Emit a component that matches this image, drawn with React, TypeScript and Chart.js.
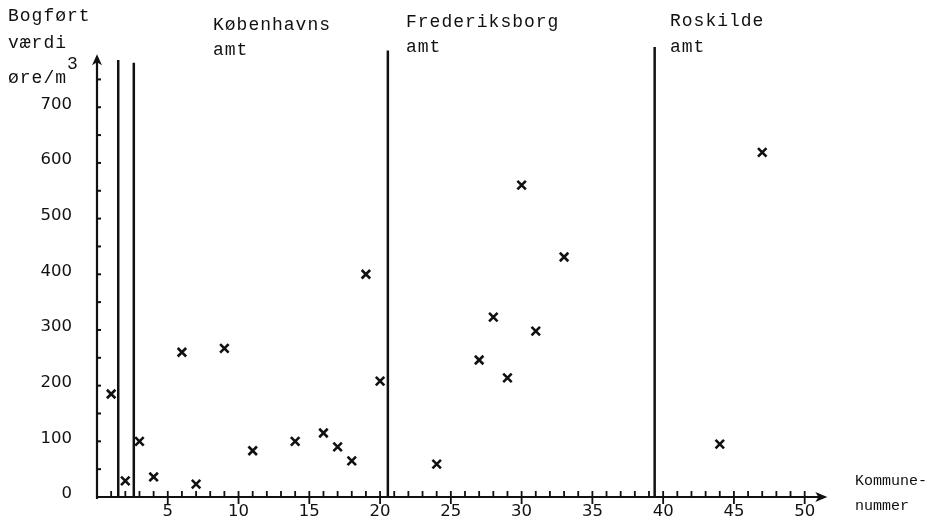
import React, { useEffect, useRef } from 'react';
import { Chart, registerables } from 'chart.js';

Chart.register(...registerables);

// Data
const kommuneNr = [1, 2, 3, 4, 6, 7, 9, 11, 14, 16, 17, 18, 19, 20, 24, 27, 28, 29, 30, 31, 33, 44, 47];
const vaerdi = [185, 29, 100, 36, 260, 23, 267, 83, 100, 115, 90, 65, 400, 208, 59, 246, 323, 214, 560, 298, 431, 95, 619];

// Vertical dividers between amter (x position, top value)
const dividerX = [1.5, 2.6, 20.55, 39.4];
const dividerTop = [785, 780, 802, 808];

const xTickLabels = [5, 10, 15, 20, 25, 30, 35, 40, 45, 50];
const yTickLabels = [0, 100, 200, 300, 400, 500, 600, 700];

const amtNames = [
  ['Københavns', 'amt'],
  ['Frederiksborg', 'amt'],
  ['Roskilde', 'amt'],
];
const yTitle = ['Bogført', 'værdi', 'øre/m'];
const ySuperscript = '3';
const xTitle = ['Kommune-', 'nummer'];

const INK = '#111';

const axesPlugin = {
  id: 'handAxes',
  afterDraw(chart: any) {
    const ctx = chart.ctx as CanvasRenderingContext2D;
    const xs = chart.scales.x;
    const ys = chart.scales.y;
    const x0 = xs.getPixelForValue(0);
    const y0 = ys.getPixelForValue(0);
    ctx.save();
    ctx.strokeStyle = INK;
    ctx.fillStyle = INK;
    ctx.lineCap = 'butt';

    // Y axis
    const yTip = ys.getPixelForValue(795);
    ctx.lineWidth = 2.2;
    ctx.beginPath();
    ctx.moveTo(x0, y0 + 2);
    ctx.lineTo(x0, yTip + 6);
    ctx.stroke();
    ctx.beginPath();
    ctx.moveTo(x0, yTip);
    ctx.lineTo(x0 - 5, yTip + 11);
    ctx.lineTo(x0, yTip + 8);
    ctx.lineTo(x0 + 5, yTip + 11);
    ctx.closePath();
    ctx.fill();
    ctx.lineWidth = 2;
    for (let v = 50; v <= 750; v += 50) {
      const py = ys.getPixelForValue(v);
      ctx.beginPath();
      ctx.moveTo(x0, py);
      ctx.lineTo(x0 + 4, py);
      ctx.stroke();
    }

    // X axis
    const xTip = xs.getPixelForValue(51.6);
    ctx.lineWidth = 2.2;
    ctx.beginPath();
    ctx.moveTo(x0 - 1, y0);
    ctx.lineTo(xTip - 6, y0);
    ctx.stroke();
    ctx.beginPath();
    ctx.moveTo(xTip, y0);
    ctx.lineTo(xTip - 12, y0 - 5);
    ctx.lineTo(xTip - 9, y0);
    ctx.lineTo(xTip - 12, y0 + 5);
    ctx.closePath();
    ctx.fill();
    ctx.lineWidth = 1.8;
    for (let i = 1; i <= 50; i++) {
      const px = xs.getPixelForValue(i);
      ctx.beginPath();
      if (i % 5 === 0) {
        ctx.moveTo(px, y0 - 6);
        ctx.lineTo(px, y0 + 7);
      } else {
        ctx.moveTo(px, y0 - 6);
        ctx.lineTo(px, y0);
      }
      ctx.stroke();
    }

    // Tick labels
    ctx.font = '16.5px "DejaVu Sans"';
    ctx.textBaseline = 'middle';
    ctx.textAlign = 'right';
    yTickLabels.forEach((v) => {
      ctx.fillText(String(v), 72, ys.getPixelForValue(v) - 3);
    });
    ctx.textAlign = 'center';
    xTickLabels.forEach((v) => {
      ctx.fillText(String(v), xs.getPixelForValue(v), 512);
    });

    // Titles (typewriter)
    ctx.textAlign = 'left';
    ctx.font = '18px "Liberation Mono"';
    try { (ctx as any).letterSpacing = '1px'; } catch (e) {}
    ctx.fillText(yTitle[0], 8, 16);
    ctx.fillText(yTitle[1], 8, 43);
    ctx.fillText(yTitle[2], 8, 78);
    ctx.fillText(ySuperscript, 67, 64);

    const amtPos = [
      [213, 25, 50],
      [406, 22, 47],
      [670, 21, 47],
    ];
    amtNames.forEach((lines, i) => {
      ctx.fillText(lines[0], amtPos[i][0], amtPos[i][1]);
      ctx.fillText(lines[1], amtPos[i][0], amtPos[i][2]);
    });

    try { (ctx as any).letterSpacing = '0px'; } catch (e) {}
    ctx.font = '15px "Liberation Mono"';
    ctx.fillText(xTitle[0], 855, 481);
    ctx.fillText(xTitle[1], 855, 506);
    ctx.restore();
  },
};

export default function App() {
  const ref = useRef<HTMLCanvasElement | null>(null);
  useEffect(() => {
    if (!ref.current) return;
    const dividerSets = dividerX.map((x, i) => ({
      type: 'line' as const,
      data: [
        { x, y: 0 },
        { x, y: dividerTop[i] },
      ],
      borderColor: INK,
      borderWidth: 2.5,
      pointRadius: 0,
      showLine: true,
      fill: false,
    }));
    const chart = new Chart(ref.current, {
      type: 'scatter',
      data: {
        datasets: [
          {
            type: 'scatter' as const,
            data: kommuneNr.map((x, i) => ({ x, y: vaerdi[i] })),
            pointStyle: 'crossRot',
            pointRadius: 6,
            borderWidth: 2.6,
            borderColor: INK,
            backgroundColor: INK,
          },
          ...dividerSets,
        ] as any,
      },
      options: {
        responsive: false,
        animation: false,
        layout: { padding: { left: 97, right: 118, top: 46, bottom: 28 } },
        scales: {
          x: { type: 'linear', min: 0, max: 52, display: false },
          y: { type: 'linear', min: 0, max: 810, display: false },
        },
        plugins: { legend: { display: false }, tooltip: { enabled: false } },
      },
      plugins: [axesPlugin],
    });
    return () => chart.destroy();
  }, []);
  return (
    <div style={{ position: 'fixed', left: 0, top: 0, width: 951, height: 525, background: '#fff' }}>
      <canvas ref={ref} width={951} height={525} style={{ display: 'block', width: 951, height: 525 }} />
    </div>
  );
}
